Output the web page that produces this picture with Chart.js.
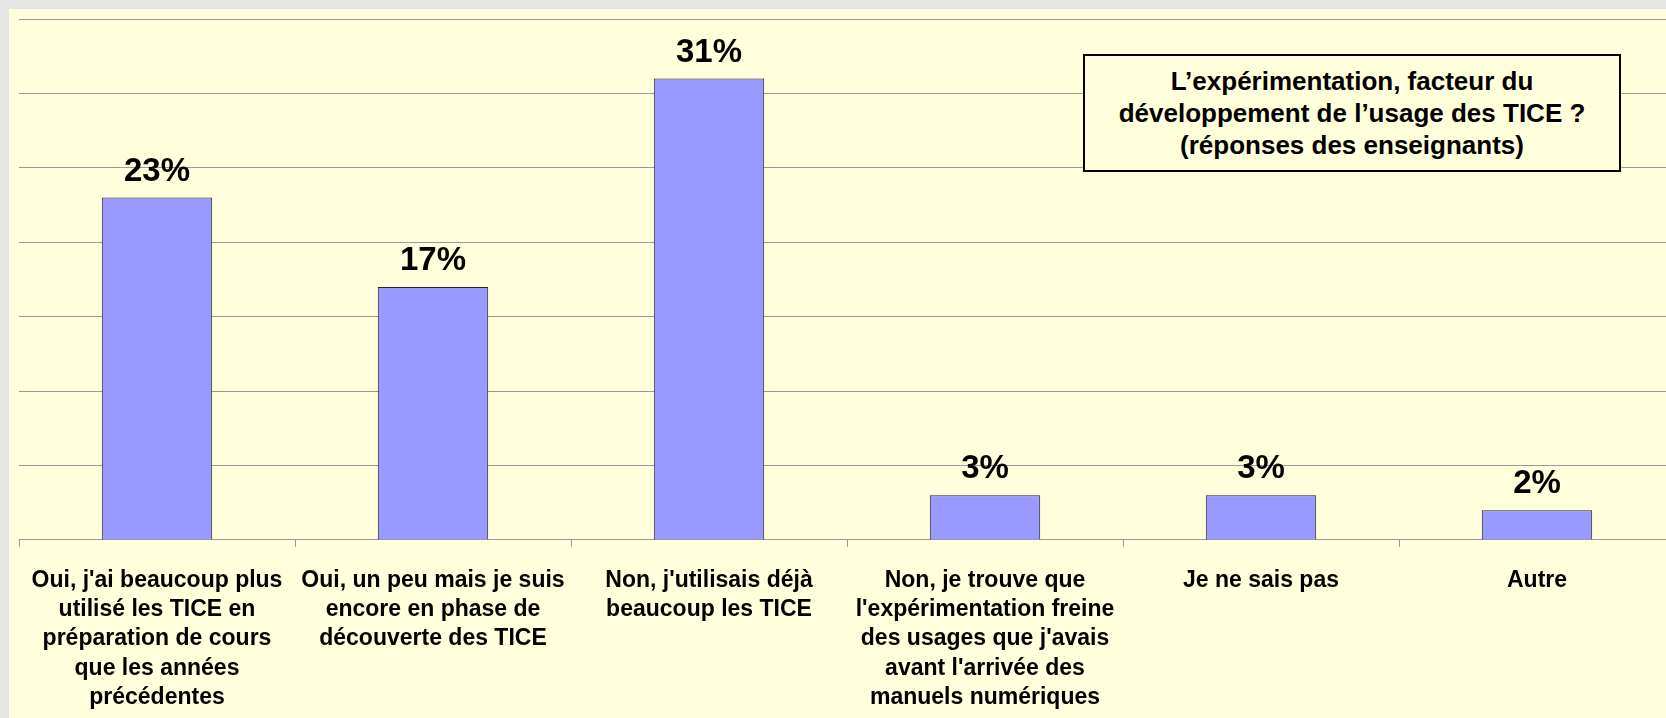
<!DOCTYPE html>
<html>
<head>
<meta charset="utf-8">
<script src="https://cdn.jsdelivr.net/npm/chart.js@4"></script>
<style>
    html, body { margin: 0; padding: 0; overflow: hidden; background: #e4e4e4; width: 1666px; height: 718px; }
    #wrap { position: absolute; left: 9px; top: 9px; width: 1681px; height: 725px; background: #ffffdc; }
    #titleBox {
        position: absolute; left: 1083px; top: 54px; width: 538px; height: 118px;
        box-sizing: border-box; border: 2px solid #000; background: #ffffdc;
        font-family: "Liberation Sans", Arial, sans-serif; font-weight: bold; font-size: 26px;
        line-height: 32px; text-align: center; padding-top: 9px; color: #000;
    }
</style>
</head>
<body>
<div id="wrap">
    <canvas id="chart" width="1680" height="722"></canvas>
</div>
<div id="titleBox">L’expérimentation, facteur du<br>développement de l’usage des TICE ?<br>(réponses des enseignants)</div>
<script>
    const categories = [
        ["Oui, j'ai beaucoup plus", "utilisé les TICE en", "préparation de cours", "que les années", "précédentes"],
        ["Oui, un peu mais je suis", "encore en phase de", "découverte des TICE"],
        ["Non, j'utilisais déjà", "beaucoup les TICE"],
        ["Non, je trouve que", "l'expérimentation freine", "des usages que j'avais", "avant l'arrivée des", "manuels numériques"],
        ["Je ne sais pas"],
        ["Autre"]
    ];
    const percentages = [23, 17, 31, 3, 3, 2];

    const FONT = '"Liberation Sans", Arial, sans-serif';

    // value labels above each bar
    const barLabels = {
        id: 'barLabels',
        afterDatasetsDraw(chart) {
            const ctx = chart.ctx;
            const meta = chart.getDatasetMeta(0);
            ctx.save();
            ctx.font = 'bold 33px ' + FONT;
            ctx.fillStyle = '#000';
            ctx.textAlign = 'center';
            ctx.textBaseline = 'alphabetic';
            meta.data.forEach((bar, i) => {
                ctx.fillText(percentages[i] + '%', bar.x, bar.y - 17);
            });
            ctx.restore();
        }
    };

    new Chart(
        document.getElementById('chart'),
        {
            type: 'bar',
            data: {
                labels: categories,
                datasets: [
                    {
                        data: percentages,
                        backgroundColor: '#9999ff',
                        borderColor: '#222222',
                        borderWidth: 1,
                        barPercentage: 0.4,
                        categoryPercentage: 1
                    }
                ]
            },
            options: {
                responsive: false,
                animation: false,
                devicePixelRatio: 1,
                layout: {
                    padding: { left: 10, right: 14, top: 10, bottom: 0 }
                },
                plugins: {
                    legend: { display: false },
                    tooltip: { enabled: false }
                },
                scales: {
                    x: {
                        border: { color: '#999999', width: 1 },
                        grid: {
                            offset: true,
                            drawOnChartArea: false,
                            drawTicks: true,
                            tickLength: 7,
                            color: '#999999'
                        },
                        ticks: {
                            color: '#000',
                            maxRotation: 0,
                            autoSkip: false,
                            padding: 19,
                            font: { family: FONT, size: 23, weight: 'bold', lineHeight: 1.27 }
                        }
                    },
                    y: {
                        min: 0,
                        max: 35,
                        border: { display: false },
                        grid: { color: '#999999', drawTicks: false },
                        ticks: { display: false, stepSize: 5 }
                    }
                }
            },
            plugins: [barLabels]
        }
    );
</script>
</body>
</html>
